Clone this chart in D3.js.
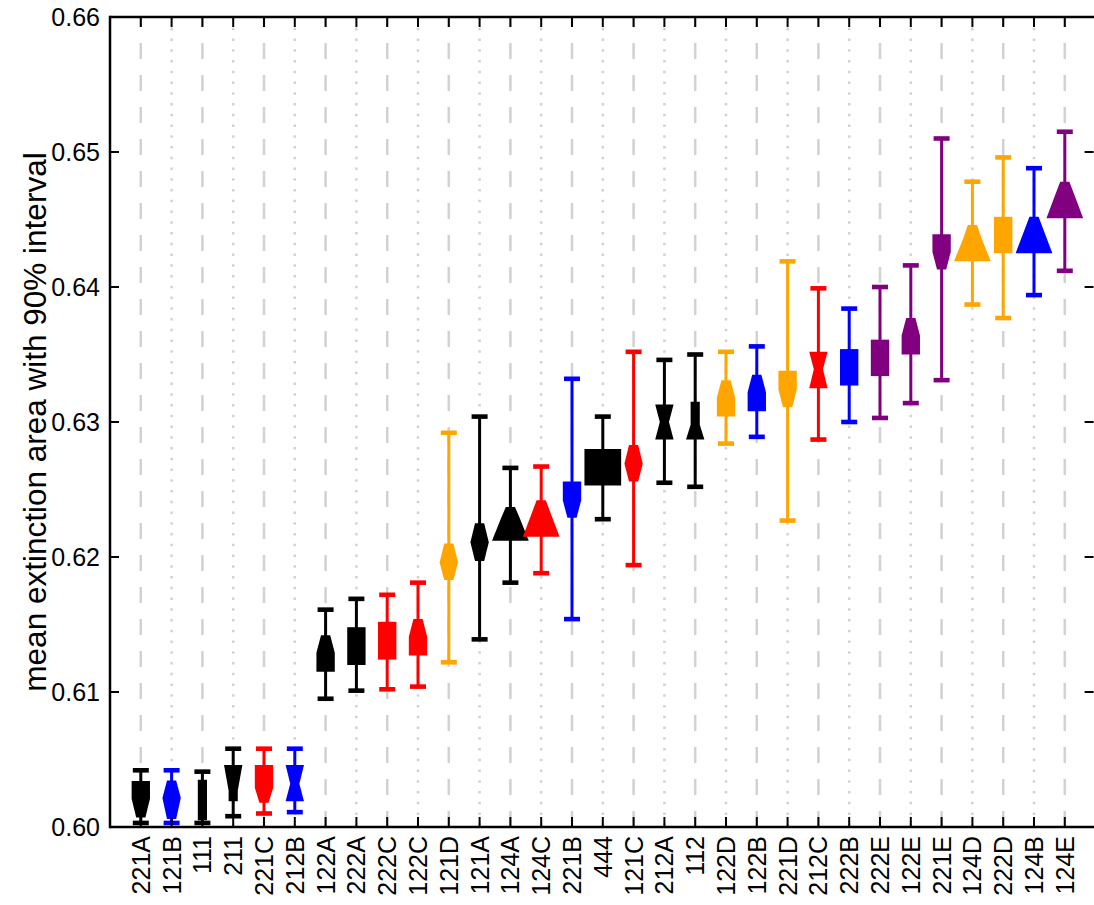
<!DOCTYPE html>
<html><head><meta charset="utf-8">
<script src="https://d3js.org/d3.v7.min.js"></script>
<style>body{margin:0;background:#fff}svg{display:block}text{font-family:"Liberation Sans",Arial,Helvetica,sans-serif}</style>
</head><body>
<svg id="chart" width="1094" height="905"></svg>
<script>
// ---- data ----
const categories = ["221A","121B","111","211","221C","212B","122A","222A","222C","122C","121D","121A","124A","124C","221B","444","121C","212A","112","122D","122B","221D","212C","222B","222E","122E","221E","124D","222D","124B","124E"];
const whiskerLow  = [0.6003,0.6003,0.6003,0.6008,0.6010,0.6011,0.6095,0.6101,0.6102,0.6104,0.6122,0.6139,0.6181,0.6188,0.6154,0.6228,0.6194,0.6255,0.6252,0.6284,0.6289,0.6227,0.6287,0.6300,0.6303,0.6314,0.6331,0.6387,0.6377,0.6394,0.6412];
const whiskerHigh = [0.6042,0.6042,0.6041,0.6058,0.6058,0.6058,0.6161,0.6169,0.6172,0.6181,0.6292,0.6304,0.6266,0.6267,0.6332,0.6304,0.6352,0.6346,0.6350,0.6352,0.6356,0.6419,0.6399,0.6384,0.6400,0.6416,0.6510,0.6478,0.6496,0.6488,0.6515];
const boxLow      = [0.6007,0.6006,0.6005,0.6019,0.6018,0.6019,0.6115,0.6120,0.6124,0.6127,0.6183,0.6197,0.6212,0.6215,0.6229,0.6253,0.6256,0.6287,0.6287,0.6304,0.6308,0.6311,0.6325,0.6327,0.6334,0.6350,0.6413,0.6419,0.6425,0.6425,0.6451];
const boxMid      = [0.6021,0.60215,0.6020,0.6027,0.6029,0.6032,0.6129,0.6134,0.6138,0.6141,0.6196,0.6211,0.6229,0.6233,0.6242,0.6266,0.6269,0.6300,0.6298,0.6318,0.6322,0.6324,0.6339,0.6340,0.6348,0.6364,0.6426,0.6436,0.6439,0.6443,0.6469];
const boxHigh     = [0.6034,0.60345,0.6035,0.6046,0.6046,0.6046,0.6142,0.6148,0.6152,0.6154,0.6210,0.6225,0.6237,0.6242,0.6256,0.6280,0.6283,0.6313,0.6315,0.6331,0.6335,0.6338,0.6352,0.6354,0.6361,0.6377,0.6439,0.6446,0.6452,0.6452,0.6478];
const yTicks = [0.60,0.61,0.62,0.63,0.64,0.65,0.66];
const yTitle = "mean extinction area with 90% interval";
const suffixColors = {A:"#000000", B:"#0000ff", C:"#ff0000", D:"#ffa500", E:"#800080"};

(function(){
const svg = d3.select("#chart");
const mLeft = 110, mTop = 17, mBottom = 827;
const step = 30.8;
const n = categories.length;
const x = d3.scaleLinear().domain([0, n + 1]).range([mLeft, mLeft + step * (n + 1)]);
const y = d3.scaleLinear().domain([0.60, 0.66]).range([mBottom, mTop]);
const mRight = x.range()[1];
const unit = step * 0.149; // half-width per code digit

const colorOf = c => suffixColors[c.slice(-1)] || "#000000";
const digits = c => c.slice(0,3).split("").map(Number);

// grid
const grid = svg.append("g");
categories.forEach((c,i) => {
  const xi = x(i+1);
  const dashed = (i % 2 === 0);
  grid.append("line").attr("x1", xi).attr("x2", xi).attr("y1", mTop).attr("y2", mBottom)
    .attr("stroke", "#d2d2d2").attr("stroke-width", 2.5)
    .attr("stroke-dasharray", dashed ? "16,16" : "2.5,8.25")
    .attr("stroke-dashoffset", dashed ? 6 : 0);
});

// whiskers + shapes
const marks = svg.append("g");
categories.forEach((c,i) => {
  const xi = x(i+1), col = colorOf(c);
  marks.append("line").attr("x1", xi).attr("x2", xi)
    .attr("y1", y(whiskerLow[i])).attr("y2", y(whiskerHigh[i]))
    .attr("stroke", col).attr("stroke-width", 3);
  [whiskerLow[i], whiskerHigh[i]].forEach(v => {
    marks.append("rect").attr("x", xi - 8).attr("y", y(v) - 2.3).attr("width", 16).attr("height", 4.6).attr("fill", col);
  });
  const [dt, dm, db] = digits(c);
  const pts = [
    [xi - dt*unit, y(boxHigh[i])], [xi + dt*unit, y(boxHigh[i])],
    [xi + dm*unit, y(boxMid[i])], [xi + db*unit, y(boxLow[i])],
    [xi - db*unit, y(boxLow[i])], [xi - dm*unit, y(boxMid[i])]
  ];
  marks.append("polygon").attr("points", pts.map(p => p.join(",")).join(" ")).attr("fill", col);
});

// axes frame (right edge lies just beyond the canvas)
const ax = svg.append("g").attr("stroke", "#000").attr("stroke-width", 2.5).attr("fill", "none");
ax.append("line").attr("x1", mLeft).attr("x2", mLeft).attr("y1", mTop - 1.25).attr("y2", mBottom + 1.25);
ax.append("line").attr("x1", mLeft).attr("x2", mRight).attr("y1", mTop).attr("y2", mTop);
ax.append("line").attr("x1", mLeft).attr("x2", mRight).attr("y1", mBottom).attr("y2", mBottom);

// ticks
const tk = svg.append("g").attr("stroke", "#000").attr("stroke-width", 2);
yTicks.forEach(v => {
  tk.append("line").attr("x1", mLeft).attr("x2", mLeft + 9).attr("y1", y(v)).attr("y2", y(v));
  tk.append("line").attr("x1", mRight - 11).attr("x2", mRight - 2).attr("y1", y(v)).attr("y2", y(v));
});
categories.forEach((c,i) => {
  tk.append("line").attr("x1", x(i+1)).attr("x2", x(i+1)).attr("y1", mTop).attr("y2", mTop + 10);
  tk.append("line").attr("x1", x(i+1)).attr("x2", x(i+1)).attr("y1", mBottom).attr("y2", mBottom - 10);
});

// tick labels
svg.append("g").selectAll("text").data(yTicks).join("text")
  .attr("x", 100).attr("y", d => y(d)).attr("dy", "0.36em")
  .attr("text-anchor", "end").attr("font-size", 25).text(d => d.toFixed(2));
svg.append("g").selectAll("text").data(categories).join("text")
  .attr("transform", (d,i) => `translate(${x(i+1)},${mBottom + 9}) rotate(-90)`)
  .attr("dy", "0.36em").attr("text-anchor", "end").attr("font-size", 25).text(d => d);

// y title
svg.append("text").attr("transform", `translate(35,${(mTop+mBottom)/2}) rotate(-90)`)
  .attr("dy", "0.36em").attr("text-anchor", "middle").attr("font-size", 31.5).text(yTitle);
})();
</script>
</body></html>
